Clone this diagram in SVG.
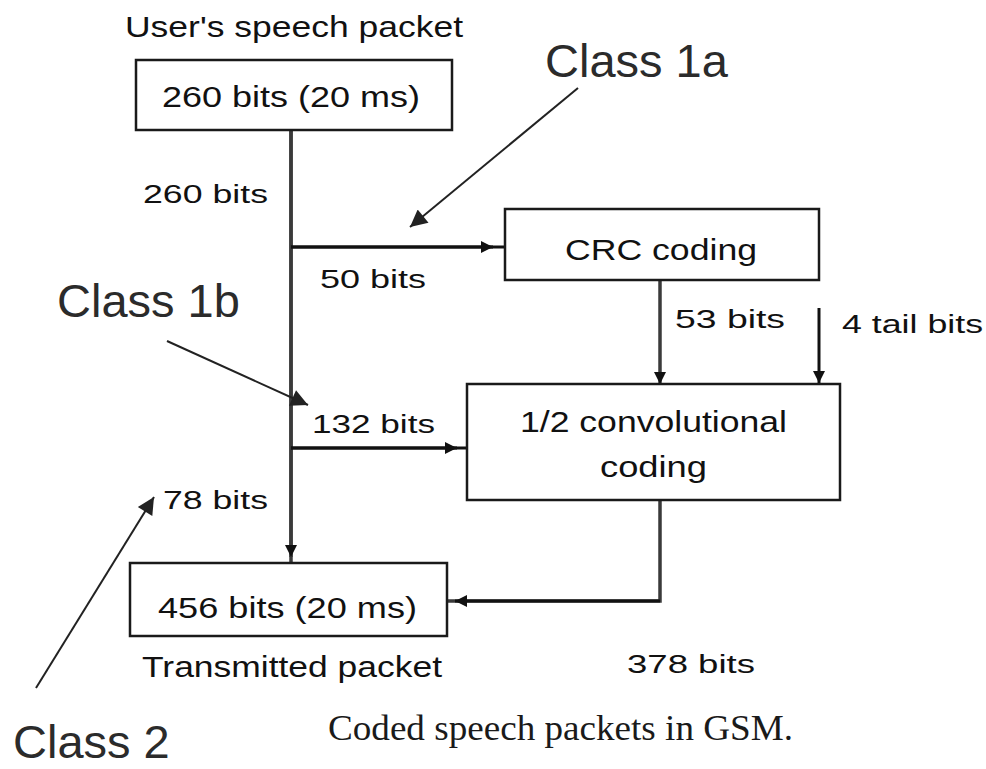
<svg xmlns="http://www.w3.org/2000/svg" width="986" height="769" viewBox="0 0 986 769">
  <style>
    .box { fill: #ffffff; stroke: #1a1a1a; stroke-width: 2.5; }
    .lbl { font-family: "Liberation Sans", Arial, sans-serif; fill: #111111; }
    .big { font-size: 29px; }
    .sm { font-size: 26px; }
    .cls { font-family: "Liberation Sans", Arial, sans-serif; font-size: 47px; fill: #2b2b2b; }
    .cap { font-family: "Liberation Serif", "Times New Roman", serif; font-size: 36px; fill: #1a1a1a; }
    .wire { fill: none; stroke: #111111; stroke-width: 3; }
    .trunk { fill: none; stroke: #3a3a3a; stroke-width: 3.5; }
    .note { fill: none; stroke: #222222; stroke-width: 2; }
  </style>
  <defs>
    <marker id="head" viewBox="0 0 10 10" refX="10" refY="5" markerUnits="userSpaceOnUse" markerWidth="16" markerHeight="12" orient="auto">
      <path d="M0,0 L10,5 L0,10 z" fill="#111111"/>
    </marker>
    <marker id="pointer" viewBox="0 0 10 10" refX="10" refY="5" markerUnits="userSpaceOnUse" markerWidth="22" markerHeight="17" orient="auto">
      <path d="M0,0 L10,5 L0,10 z" fill="#222222"/>
    </marker>
  </defs>

  <!-- connectors -->
  <g id="connectors">
    <!-- trunk from speech packet down to transmitted packet -->
    <path class="trunk" d="M291,130 V563"/>
    <path class="trunk" d="M291,130 V557" marker-end="url(#head)"/>
    <!-- class 1a branch into CRC coding -->
    <path class="wire" d="M291,247 H505"/>
    <path class="wire" d="M291,247 H493" marker-end="url(#head)"/>
    <!-- class 1b branch into convolutional coder -->
    <path class="wire" d="M291,448 H467"/>
    <path class="wire" d="M291,448 H457" marker-end="url(#head)"/>
    <!-- CRC output, 53 bits -->
    <path class="trunk" d="M660,280 V384" marker-end="url(#head)"/>
    <!-- tail bits -->
    <path class="wire" d="M819,308 V383" marker-end="url(#head)"/>
    <!-- coder output, 378 bits -->
    <path class="trunk" d="M660,500 V601 H447"/>
    <path class="wire" d="M660,601 H455" marker-end="url(#head)"/>
    <!-- class pointers -->
    <path class="note" d="M578,88 L410,227" marker-end="url(#pointer)"/>
    <path class="note" d="M167,341 L308,405" marker-end="url(#pointer)"/>
    <path class="note" d="M36,688 L154,497" marker-end="url(#pointer)"/>
  </g>

  <g id="speech-packet">
    <rect class="box" x="136" y="60" width="316" height="70"/>
    <text class="lbl big" x="162" y="107" textLength="258" lengthAdjust="spacingAndGlyphs">260 bits (20 ms)</text>
    <text class="lbl big" x="125" y="37" textLength="338" lengthAdjust="spacingAndGlyphs">User's speech packet</text>
  </g>

  <g id="crc-coding">
    <rect class="box" x="505" y="209" width="314" height="71"/>
    <text class="lbl big" x="565" y="260" textLength="192" lengthAdjust="spacingAndGlyphs">CRC coding</text>
  </g>

  <g id="conv-coding">
    <rect class="box" x="467" y="384" width="373" height="116"/>
    <text class="lbl big" x="520" y="432" textLength="267" lengthAdjust="spacingAndGlyphs">1/2 convolutional</text>
    <text class="lbl big" x="600" y="477" textLength="107" lengthAdjust="spacingAndGlyphs">coding</text>
  </g>

  <g id="transmitted-packet">
    <rect class="box" x="130" y="563" width="317" height="73"/>
    <text class="lbl big" x="158" y="618" textLength="259" lengthAdjust="spacingAndGlyphs">456 bits (20 ms)</text>
    <text class="lbl big" x="142" y="677" textLength="300" lengthAdjust="spacingAndGlyphs">Transmitted packet</text>
  </g>

  <g id="bit-counts">
    <text class="lbl sm" x="143" y="203" textLength="125" lengthAdjust="spacingAndGlyphs">260 bits</text>
    <text class="lbl sm" x="320" y="288" textLength="106" lengthAdjust="spacingAndGlyphs">50 bits</text>
    <text class="lbl sm" x="675" y="328" textLength="110" lengthAdjust="spacingAndGlyphs">53 bits</text>
    <text class="lbl sm" x="842" y="333" textLength="141" lengthAdjust="spacingAndGlyphs">4 tail bits</text>
    <text class="lbl sm" x="312" y="433" textLength="123" lengthAdjust="spacingAndGlyphs">132 bits</text>
    <text class="lbl sm" x="163" y="509" textLength="105" lengthAdjust="spacingAndGlyphs">78 bits</text>
    <text class="lbl sm" x="627" y="673" textLength="128" lengthAdjust="spacingAndGlyphs">378 bits</text>
  </g>

  <g id="class-labels">
    <text class="cls" x="545" y="77">Class 1a</text>
    <text class="cls" x="57" y="317">Class 1b</text>
    <text class="cls" x="13" y="758">Class 2</text>
  </g>

  <text class="cap" x="328" y="740" textLength="465" lengthAdjust="spacingAndGlyphs">Coded speech packets in GSM.</text>
</svg>
